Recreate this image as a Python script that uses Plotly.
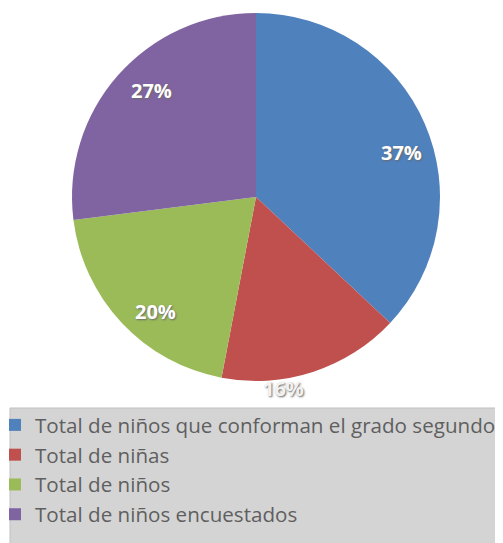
import math
import plotly.graph_objects as go

categories = [
    "Total de niños que conforman el grado segundo",
    "Total de niñas",
    "Total de niños",
    "Total de niños encuestados",
]
values = [37, 16, 20, 27]
colors = ["#4F81BD", "#C0504D", "#9BBB59", "#8064A2"]
# label placement (best-fit style): radius fraction and angular shift from the slice's mid-angle
label_radius = [0.83, 1.05, 0.83, 0.81]
label_shift_deg = [6.3, 9.8, -5.5, 4.1]
label_colors = ["#FFFFFF", "#F2F2F2", "#FFFFFF", "#FFFFFF"]

# the page body has an 8px margin, so the figure starts at (8, 8) in the window
OFF = 8
W, H = 503 - OFF, 543 - OFF
cx, cy, R = 256 - OFF, 197 - OFF, 184  # pie centre and radius in figure pixels


def px_x(x):
    return x / W


def px_y(y):
    return 1 - y / H


fig = go.Figure(
    go.Pie(
        labels=categories,
        values=values,
        marker=dict(colors=colors, line=dict(width=0)),
        sort=False,
        direction="clockwise",
        rotation=0,
        textinfo="none",
        domain=dict(x=[px_x(cx - R), px_x(cx + R)], y=[px_y(cy + R), px_y(cy - R)]),
        showlegend=True,
    )
)

# percentage labels, placed around each slice's mid-angle
total = sum(values)
acc = 0
for v, rf, sh, col in zip(values, label_radius, label_shift_deg, label_colors):
    mid = (acc + v / 2) / total * 2 * math.pi + math.radians(sh)
    acc += v
    x = cx + rf * R * math.sin(mid)
    y = cy - rf * R * math.cos(mid)
    fig.add_annotation(
        x=px_x(x), y=px_y(y), xref="paper", yref="paper",
        xanchor="center", yanchor="middle",
        text=f"<b>{round(100 * v / total)}%</b>", showarrow=False,
        font=dict(family="Open Sans", size=20, color=col, shadow="1px 1px 2px #6a6a6a"),
    )

fig.add_shape(
    type="rect", xref="paper", yref="paper",
    x0=px_x(10 - OFF), x1=px_x(499 - OFF), y0=-0.02, y1=px_y(408 - OFF),
    fillcolor="#D4D4D4", line=dict(color="#BFBFBF", width=1), layer="below",
)

fig.update_layout(
    width=W, height=H,
    margin=dict(l=0, r=0, t=0, b=0, autoexpand=False),
    paper_bgcolor="white",
    plot_bgcolor="white",
    legend=dict(
        x=px_x(-13), y=px_y(405 - OFF), xanchor="left", yanchor="top",
        bgcolor="rgba(0,0,0,0)",
        font=dict(family="Open Sans", size=20.6, color="#5F5F5F"),
        itemwidth=30,
        tracegroupgap=0,
    ),
)

fig.write_html("out.html")
